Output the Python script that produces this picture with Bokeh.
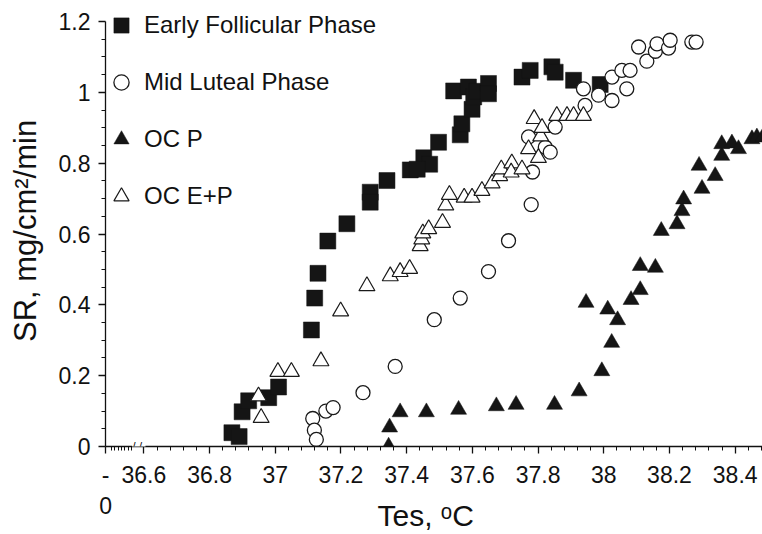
import math
from bokeh.plotting import figure
from bokeh.models import FixedTicker, Legend, LegendItem, Label, Range1d
from bokeh.core.properties import value
from bokeh.embed import file_html
from bokeh.resources import INLINE

# ---------------- data ----------------
ef_x = [36.868, 36.890, 36.899, 36.919, 36.980, 37.010, 37.110, 37.120, 37.130, 37.160,
        37.218, 37.289, 37.289, 37.340, 37.411, 37.452, 37.470, 37.432, 37.497, 37.563,
        37.568, 37.599, 37.543, 37.588, 37.604, 37.614, 37.649, 37.649, 37.751, 37.776,
        37.842, 37.852, 37.908, 37.989]
ef_y = [0.039, 0.028, 0.098, 0.129, 0.138, 0.168, 0.329, 0.419, 0.489, 0.580,
        0.629, 0.718, 0.690, 0.751, 0.781, 0.815, 0.797, 0.783, 0.859, 0.880,
        0.911, 0.952, 1.004, 1.015, 0.987, 1.003, 1.025, 0.996, 1.043, 1.062,
        1.072, 1.057, 1.034, 1.022]

ml_x = [37.114, 37.119, 37.125, 37.154, 37.176, 37.267, 37.365, 37.484, 37.563, 37.649,
        37.710, 37.779, 37.783, 37.771, 37.822, 37.837, 37.852, 37.943, 37.938, 37.984,
        38.025, 38.070, 38.025, 38.055, 38.080, 38.106, 38.131, 38.157, 38.162, 38.197,
        38.202, 38.268, 38.281]
ml_y = [0.079, 0.046, 0.020, 0.100, 0.110, 0.152, 0.226, 0.358, 0.419, 0.494,
        0.581, 0.683, 0.775, 0.874, 0.845, 0.831, 0.902, 0.963, 1.010, 0.992,
        0.977, 1.010, 1.043, 1.062, 1.062, 1.128, 1.088, 1.116, 1.137, 1.125,
        1.147, 1.142, 1.142]

ocp_x = [37.345, 37.348, 37.380, 37.460, 37.558, 37.673, 37.733, 37.850, 37.925, 37.994,
         38.024, 37.946, 38.012, 38.042, 38.083, 38.111, 38.111, 38.157, 38.175, 38.223,
         38.238, 38.243, 38.299, 38.290, 38.339, 38.359, 38.359, 38.390, 38.410, 38.451,
         38.466, 38.485]
ocp_y = [0.000, 0.054, 0.097, 0.097, 0.104, 0.114, 0.118, 0.118, 0.156, 0.213,
         0.293, 0.406, 0.387, 0.357, 0.414, 0.442, 0.510, 0.505, 0.609, 0.628,
         0.665, 0.698, 0.728, 0.793, 0.764, 0.821, 0.854, 0.856, 0.840, 0.868,
         0.873, 0.875]

ocep_x = [36.949, 36.957, 37.008, 37.049, 37.139, 37.199, 37.279, 37.350, 37.380, 37.409,
          37.441, 37.446, 37.449, 37.467, 37.509, 37.519, 37.530, 37.575, 37.599, 37.629,
          37.660, 37.683, 37.688, 37.720, 37.718, 37.751, 37.771, 37.801, 37.808, 37.788,
          37.812, 37.857, 37.888, 37.908, 37.938]
ocep_y = [0.142, 0.081, 0.211, 0.211, 0.241, 0.382, 0.453, 0.481, 0.493, 0.502,
          0.566, 0.585, 0.602, 0.614, 0.632, 0.681, 0.711, 0.703, 0.703, 0.722,
          0.743, 0.764, 0.783, 0.800, 0.774, 0.783, 0.840, 0.815, 0.876, 0.925,
          0.900, 0.934, 0.934, 0.934, 0.934]

series_names = ["Early Follicular Phase", "Mid Luteal Phase", "OC P", "OC E+P"]

x_ticks = [36.4835, 36.6, 36.8, 37.0, 37.2, 37.4, 37.6, 37.8, 38.0, 38.2, 38.4]
x_tick_labels = ["-\n0", "36.6", "36.8", "37", "37.2", "37.4", "37.6", "37.8", "38", "38.2", "38.4"]
y_ticks = [0, 0.2, 0.4, 0.6, 0.8, 1.0, 1.2]
y_tick_labels = ["0", "0.2", "0.4", "0.6", "0.8", "1", "1.2"]

x_title = "Tes, \u1d52C\u00a0\u00a0"
y_title = "SR, mg/cm\u00b2/min\u00a0\u2009"

# ---------------- layout ----------------
W, H = 762, 534
BL, BR, BT, BB = 105, 0, 0, 88
FW, FH = W - BL - BR, H - BT - BB
X0, X1 = 36.4832, 38.4831
XS = FW / (X1 - X0)
TOP_PX = 21.0                    # pixel row of the 1.2 tick
YS = (FH - TOP_PX) / 1.2
Y0, Y1 = 0.0, FH / YS

def dx(px):
    return X0 + (px - BL) / XS

FONT = "Liberation Sans"
INK = "#111111"

p = figure(width=W, height=H, x_range=Range1d(X0, X1), y_range=Range1d(Y0, Y1),
           output_backend="svg", toolbar_location=None,
           min_border_left=BL, min_border_right=BR, min_border_top=BT, min_border_bottom=BB)
p.outline_line_color = None
p.xgrid.visible = False
p.ygrid.visible = False
p.background_fill_color = "white"
p.border_fill_color = "white"

# ticks
x_minor = [round(36.5008 + 0.0103 * k, 4) for k in range(7)]
t = 36.64
while t < 38.5:
    if abs(round(t / 0.2) * 0.2 - t) > 1e-6:
        x_minor.append(round(t, 2))
    t = round(t + 0.04, 2)
y_minor = [round(0.05 * k, 2) for k in range(25) if k % 4 != 0]

xa = p.xaxis[0]
xa.ticker = FixedTicker(ticks=x_ticks, minor_ticks=x_minor)
xa.major_label_overrides = dict(zip(x_ticks, x_tick_labels))
ya = p.yaxis[0]
ya.ticker = FixedTicker(ticks=y_ticks, minor_ticks=y_minor)
ya.major_label_overrides = dict(zip(y_ticks, y_tick_labels))
ya.bounds = (0, 1.2)
for ax in (xa, ya):
    ax.axis_line_color = INK
    ax.axis_line_width = 1.3
    ax.major_tick_line_color = INK
    ax.minor_tick_line_color = INK
    ax.major_tick_line_width = 1.3
    ax.minor_tick_line_width = 1.0
    ax.major_tick_in = 0
    ax.major_tick_out = 7
    ax.minor_tick_in = 0
    ax.minor_tick_out = 4
    ax.major_label_standoff = 8
    ax.major_label_text_font = FONT
    ax.major_label_text_font_size = "23px"
    ax.major_label_text_color = INK
    ax.axis_label_text_font = FONT
    ax.axis_label_text_font_style = "normal"
    ax.axis_label_text_color = INK

xa.axis_label = x_title
xa.axis_label_text_font_size = "30px"
xa.axis_label_standoff = -23
ya.axis_label = y_title
ya.axis_label_text_font_size = "31px"
ya.axis_label_standoff = 13

# markers
r_ef = p.scatter(ef_x, ef_y, marker="square", size=16, fill_color="#151515",
                 line_color="#151515", line_width=0.5)
r_ml = p.scatter(ml_x, ml_y, marker="circle", size=14, fill_color="white",
                 line_color="#1a1a1a", line_width=1.3)
r_ep = p.scatter(ocep_x, ocep_y, marker="triangle", size=16, fill_color="white",
                 line_color="#1a1a1a", line_width=1.2)
r_p = p.scatter(ocp_x, ocp_y, marker="triangle", size=16, fill_color="#151515",
                line_color="#151515", line_width=0.5)

GLYPH = 38
GAP = 19
LEG_H = 4 * GLYPH + 3 * GAP
legend = Legend(items=[LegendItem(label=value(series_names[0]), renderers=[r_ef]),
                       LegendItem(label=value(series_names[1]), renderers=[r_ml]),
                       LegendItem(label=value(series_names[2]), renderers=[r_p]),
                       LegendItem(label=value(series_names[3]), renderers=[r_ep])],
                location=(-3, FH - 6 - LEG_H), glyph_width=GLYPH, glyph_height=GLYPH,
                label_height=GLYPH, spacing=GAP, label_standoff=4, padding=0, margin=0,
                border_line_color=None, background_fill_alpha=0,
                label_text_font=FONT, label_text_font_size="24px",
                label_text_color=INK)
p.add_layout(legend)

# axis break marks
p.add_layout(Label(x=dx(138.3), y=0, text="/  /", text_font=FONT, text_font_size="12px",
                   text_align="center", text_baseline="middle", text_color=INK,
                   background_fill_color="white"))

open("out.html", "w").write(file_html(p, INLINE))
